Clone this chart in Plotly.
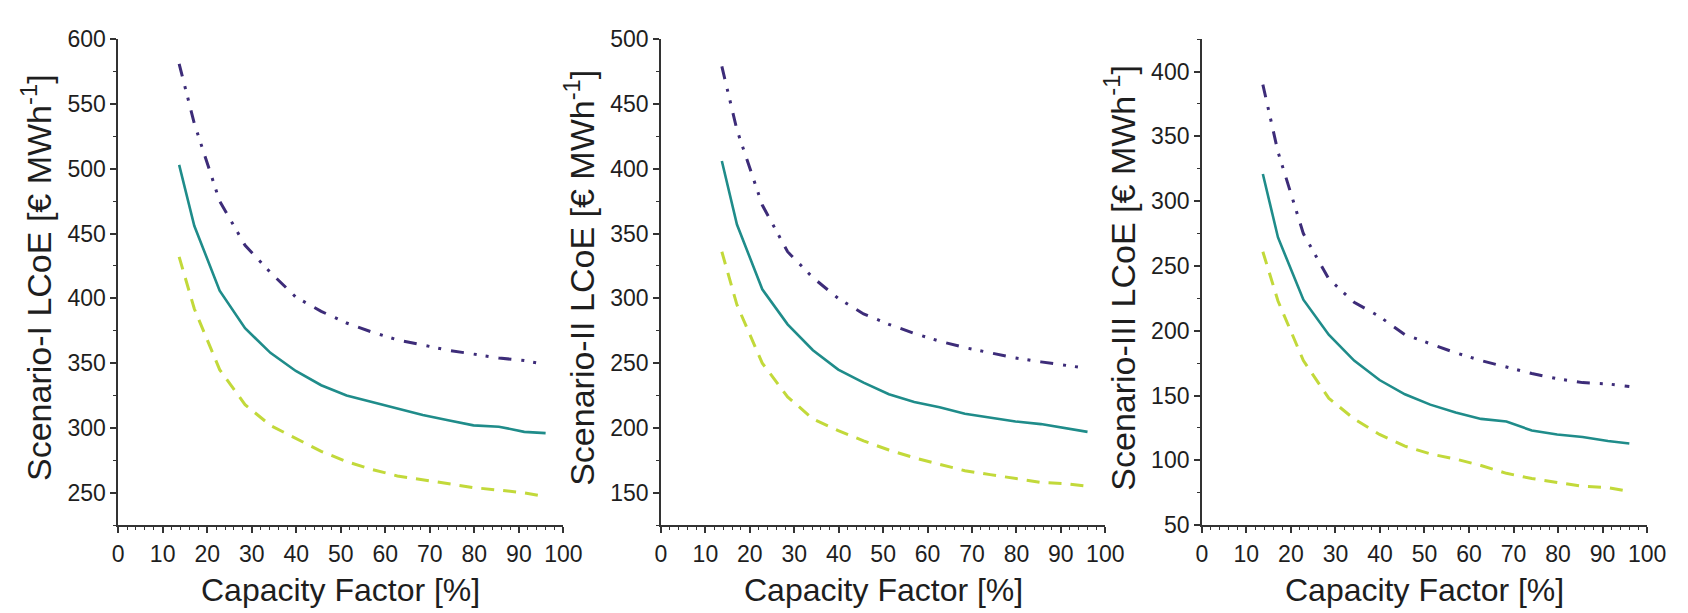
import plotly.graph_objects as go

# ---- data ----
capacity_factor = [13.7, 17.1, 22.8, 28.5, 34.2, 39.9, 45.6, 51.3, 57.0, 62.7, 68.4, 74.1, 79.8, 85.5, 91.2, 96.0]

s1_high = [581, 535, 475, 441, 420, 401, 390, 381, 374, 368, 364, 360, 357, 354, 352, 349]
s1_mid = [503, 456, 406, 377, 358, 344, 333, 325, 320, 315, 310, 306, 302, 301, 297, 296]
s1_low = [432, 392, 345, 318, 302, 292, 282, 274, 268, 263, 260, 257, 254, 252, 250, 247]

s2_high = [479, 430, 372, 336, 316, 300, 288, 280, 273, 267, 262, 258, 254, 251, 248, 246]
s2_mid = [406, 357, 307, 280, 260, 245, 235, 226, 220, 216, 211, 208, 205, 203, 200, 197]
s2_low = [336, 295, 250, 224, 207, 198, 190, 183, 177, 172, 167, 164, 161, 158, 157, 155]

s3_high = [390, 338, 275, 240, 222, 211, 197, 190, 183, 177, 172, 167, 163, 160, 159, 157]
s3_mid = [321, 272, 224, 197, 177, 162, 151, 143, 137, 132, 130, 123, 120, 118, 115, 113]
s3_low = [261, 223, 177, 148, 132, 120, 111, 105, 101, 96, 90, 86, 83, 80, 79, 76]

y_titles = ["Scenario-I LCoE [€ MWh<sup>-1</sup>]",
            "Scenario-II LCoE [€ MWh<sup>-1</sup>]",
            "Scenario-III LCoE [€ MWh<sup>-1</sup>]"]
x_title = "Capacity Factor [%]"
y_ranges = [[225, 600], [125, 500], [50, 425]]
y_dticks = [50, 50, 50]

# ---- style ----
W, H = 1688, 613
FONT = "Arial, Liberation Sans, sans-serif"
C_HIGH = "#3d2c79"
C_MID = "#1f8c8a"
C_LOW = "#c2d93a"
AXC = "#333333"
TXT = "#1e1e1e"
DASHDOTDOT = "13px,10px,3px,9px,3px,10px"
DASH = "13px,9px"

x_left = [105.7, 656.7, 1205.7]
x_right = [557.7, 1107.7, 1657.7]
y_top_px, y_bot_px = 19, 526.5

fig = go.Figure()
series = [(s1_high, s1_mid, s1_low), (s2_high, s2_mid, s2_low), (s3_high, s3_mid, s3_low)]

for i, (hi, mid, lo) in enumerate(series):
    sfx = "" if i == 0 else str(i + 1)
    xa, ya = "x" + sfx, "y" + sfx
    fig.add_trace(go.Scatter(x=capacity_factor, y=hi, mode="lines", xaxis=xa, yaxis=ya,
                             line=dict(color=C_HIGH, width=3, dash=DASHDOTDOT), showlegend=False))
    fig.add_trace(go.Scatter(x=capacity_factor, y=mid, mode="lines", xaxis=xa, yaxis=ya,
                             line=dict(color=C_MID, width=2.6), showlegend=False))
    fig.add_trace(go.Scatter(x=capacity_factor, y=lo, mode="lines", xaxis=xa, yaxis=ya,
                             line=dict(color=C_LOW, width=3, dash=DASH), showlegend=False))

    dom_x = [x_left[i] / W, x_right[i] / W]
    dom_y = [(H - y_bot_px) / H, (H - y_top_px) / H]
    xaxis = dict(domain=dom_x, anchor=ya, range=[0, 100], dtick=10, tick0=0,
                 showgrid=False, zeroline=False, showline=True, linecolor=AXC, linewidth=1.5,
                 ticks="outside", ticklen=6, tickwidth=1.5, tickcolor=AXC,
                 minor=dict(dtick=2, tick0=0, ticks="outside", ticklen=3, tickwidth=1, tickcolor=AXC),
                 tickfont=dict(family=FONT, size=23, color=TXT), ticklabelstandoff=1,
                 fixedrange=True)
    yaxis = dict(domain=dom_y, anchor=xa, range=y_ranges[i], dtick=y_dticks[i], tick0=0,
                 showgrid=False, zeroline=False, showline=True, linecolor=AXC, linewidth=1.5,
                 ticks="outside", ticklen=6, tickwidth=1.5, tickcolor=AXC,
                 minor=dict(dtick=25, tick0=0, ticks="outside", ticklen=3, tickwidth=1, tickcolor=AXC),
                 tickfont=dict(family=FONT, size=23, color=TXT), ticklabelstandoff=0,
                 fixedrange=True)
    fig.update_layout(**{"xaxis" + sfx: xaxis, "yaxis" + sfx: yaxis})

    # axis titles
    fig.add_annotation(text=x_title, xref="paper", yref="paper",
                       x=(x_left[i] + x_right[i]) / 2 / W, y=(H - 594) / H,
                       xanchor="center", yanchor="middle", showarrow=False,
                       font=dict(family=FONT, size=32, color=TXT))
    fig.add_annotation(text=y_titles[i], xref="paper", yref="paper",
                       x=(x_left[i] - 83) / W, y=(H - 268) / H,
                       xanchor="center", yanchor="middle", textangle=-90, showarrow=False,
                       font=dict(family=FONT, size=34, color=TXT))

fig.update_layout(width=W, height=H, margin=dict(l=0, r=0, t=0, b=0),
                  paper_bgcolor="white", plot_bgcolor="white", showlegend=False)

fig.write_html("out.html")
